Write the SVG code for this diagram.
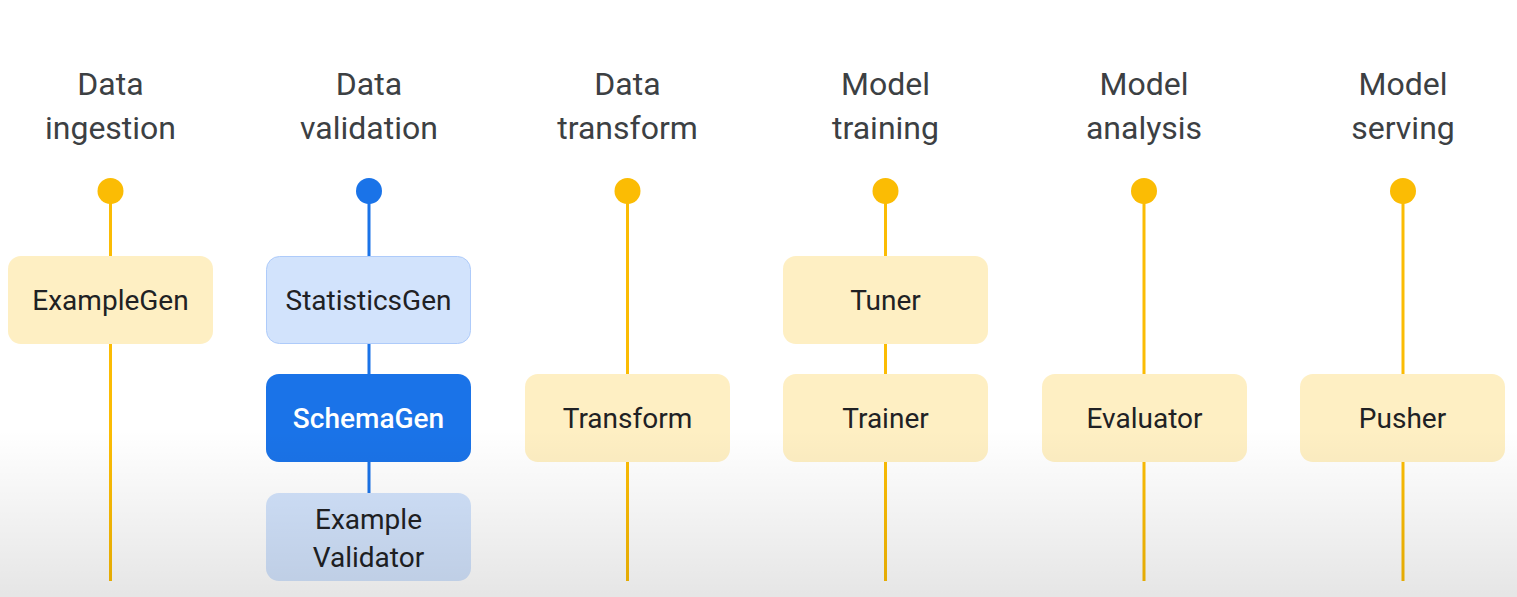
<svg xmlns="http://www.w3.org/2000/svg" width="1517" height="597" viewBox="0 0 1517 597">
  <style>
    .title { font-family: Roboto, "Liberation Sans", sans-serif; font-size: 32px; fill: #3c4043; text-anchor: middle; }
    .lbl { font-family: Roboto, "Liberation Sans", sans-serif; font-size: 28px; fill: #202124; text-anchor: middle; }
    .lblw { font-family: Roboto, "Liberation Sans", sans-serif; font-size: 28px; font-weight: 500; fill: #ffffff; text-anchor: middle; }
    .ybox { fill: #feefc3; }
    .yline { stroke: #fbbc04; stroke-width: 3; fill: none; }
    .bline { stroke: #1a73e8; stroke-width: 3; fill: none; }
    .ydot { fill: #fbbc04; }
    .bdot { fill: #1a73e8; }
  </style>
  <defs>
    <linearGradient id="shade" x1="0" y1="0" x2="0" y2="1">
      <stop offset="0" stop-color="#000000" stop-opacity="0"/>
      <stop offset="1" stop-color="#000000" stop-opacity="0.1"/>
    </linearGradient>
  </defs>
  <rect x="0" y="0" width="1517" height="597" fill="#ffffff"/>

  <!-- titles -->
  <g id="titles">
    <text class="title" x="110.5" y="95">Data</text>
    <text class="title" x="110.5" y="139">ingestion</text>
    <text class="title" x="369" y="95">Data</text>
    <text class="title" x="369" y="139">validation</text>
    <text class="title" x="627.5" y="95">Data</text>
    <text class="title" x="627.5" y="139">transform</text>
    <text class="title" x="885.5" y="95">Model</text>
    <text class="title" x="885.5" y="139">training</text>
    <text class="title" x="1144" y="95">Model</text>
    <text class="title" x="1144" y="139">analysis</text>
    <text class="title" x="1403" y="95">Model</text>
    <text class="title" x="1403" y="139">serving</text>
  </g>

  <!-- connectors -->
  <g id="connectors">
    <line class="yline" x1="110.5" y1="191" x2="110.5" y2="581"/>
    <line class="bline" x1="369" y1="191" x2="369" y2="581"/>
    <line class="yline" x1="627.5" y1="191" x2="627.5" y2="581"/>
    <line class="yline" x1="885.5" y1="191" x2="885.5" y2="581"/>
    <line class="yline" x1="1144" y1="191" x2="1144" y2="581"/>
    <line class="yline" x1="1403" y1="191" x2="1403" y2="581"/>
    <circle class="ydot" cx="110.5" cy="191" r="13"/>
    <circle class="bdot" cx="369" cy="191" r="13"/>
    <circle class="ydot" cx="627.5" cy="191" r="13"/>
    <circle class="ydot" cx="885.5" cy="191" r="13"/>
    <circle class="ydot" cx="1144" cy="191" r="13"/>
    <circle class="ydot" cx="1403" cy="191" r="13"/>
  </g>

  <g id="examplegen">
    <rect class="ybox" x="8" y="256" width="205" height="88" rx="13"/>
    <text class="lbl" x="110.5" y="310">ExampleGen</text>
  </g>
  <g id="statisticsgen">
    <rect x="266.5" y="256.5" width="204" height="87" rx="13" fill="#d2e3fc" stroke="#aecbfa" stroke-width="1"/>
    <text class="lbl" x="368.5" y="310">StatisticsGen</text>
  </g>
  <g id="schemagen">
    <rect x="266" y="374" width="205" height="88" rx="13" fill="#1a73e8"/>
    <text class="lblw" x="368.5" y="428">SchemaGen</text>
  </g>
  <g id="examplevalidator">
    <rect x="266" y="493" width="205" height="88" rx="13" fill="#d2e3fc"/>
    <text class="lbl" x="368.5" y="529">Example</text>
    <text class="lbl" x="368.5" y="567">Validator</text>
  </g>
  <g id="transform">
    <rect class="ybox" x="525" y="374" width="205" height="88" rx="13"/>
    <text class="lbl" x="627.5" y="428">Transform</text>
  </g>
  <g id="tuner">
    <rect class="ybox" x="783" y="256" width="205" height="88" rx="13"/>
    <text class="lbl" x="885.5" y="310">Tuner</text>
  </g>
  <g id="trainer">
    <rect class="ybox" x="783" y="374" width="205" height="88" rx="13"/>
    <text class="lbl" x="885.5" y="428">Trainer</text>
  </g>
  <g id="evaluator">
    <rect class="ybox" x="1042" y="374" width="205" height="88" rx="13"/>
    <text class="lbl" x="1144.5" y="428">Evaluator</text>
  </g>
  <g id="pusher">
    <rect class="ybox" x="1300" y="374" width="205" height="88" rx="13"/>
    <text class="lbl" x="1402.5" y="428">Pusher</text>
  </g>

  <rect x="0" y="430" width="1517" height="167" fill="url(#shade)"/>
</svg>
